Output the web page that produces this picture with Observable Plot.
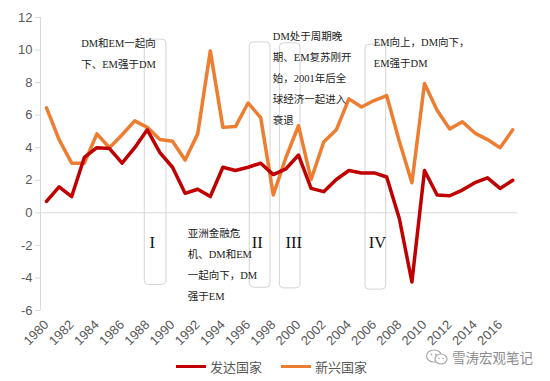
<!DOCTYPE html>
<html>
<head>
<meta charset="utf-8">
<script src="https://cdn.jsdelivr.net/npm/d3@7"></script>
<script src="https://cdn.jsdelivr.net/npm/@observablehq/plot@0.6"></script>
<style>
  html, body { margin: 0; padding: 0; background: #fff; }
  #wrap { position: relative; width: 550px; height: 381px; overflow: hidden; }
  #chart svg { overflow: visible; }
  #legend { position: absolute; left: 0; top: 352px; width: 550px; height: 29px;
            font-family: "Noto Sans CJK SC", "Liberation Sans", sans-serif; font-size: 13px; color: #595959; }
  .item { position: absolute; top: 5px; display: flex; align-items: center; }
  .swatch { display: inline-block; width: 30px; height: 3.5px; margin-right: 4px; }
  #wm { position: absolute; left: 425px; top: -5px; display: flex; align-items: center;
        font-family: "Noto Sans CJK SC", sans-serif; font-size: 13.5px; color: #8c8c8c; }
</style>
</head>
<body>
<div id="wrap">
  <div id="chart"></div>
  <div id="legend"></div>
</div>
<script>
// ---- data ----
const years = [1980,1981,1982,1983,1984,1985,1986,1987,1988,1989,1990,1991,1992,1993,1994,1995,1996,1997,1998,1999,
               2000,2001,2002,2003,2004,2005,2006,2007,2008,2009,2010,2011,2012,2013,2014,2015,2016,2017];
const dmGrowth = [0.7,1.6,1.0,3.4,4.0,3.95,3.05,4.0,5.1,3.7,2.8,1.2,1.45,1.0,2.8,2.6,2.8,3.05,2.35,2.7,
                  3.55,1.5,1.3,2.05,2.6,2.45,2.45,2.2,-0.35,-4.25,2.6,1.1,1.05,1.4,1.85,2.15,1.5,2.0];
const emGrowth = [6.45,4.5,3.05,3.05,4.85,4.0,4.8,5.65,5.25,4.5,4.4,3.25,4.85,9.95,5.25,5.3,6.75,5.85,1.1,3.4,
                  5.35,2.05,4.35,5.1,7.0,6.5,6.9,7.2,4.4,1.85,7.95,6.3,5.15,5.6,4.9,4.5,4.0,5.1];
const seriesNames = ["发达国家", "新兴国家"];
const seriesColors = ["#c00000", "#ed7d31"];
const yTicks = [-6,-4,-2,0,2,4,6,8,10,12];
const xTicks = [1980,1982,1984,1986,1988,1990,1992,1994,1996,1998,2000,2002,2004,2006,2008,2010,2012,2014,2016];

// phase boxes (years and values)
const boxLabels = ["I", "II", "III", "IV"];
const boxX1 = [1987.8, 1996.13, 1998.52, 2005.32];
const boxX2 = [1989.52, 1997.78, 2000.16, 2006.96];
const boxTop = [10.64, 10.47, 10.41, 10.33];
const boxBottom = [-4.43, -4.6, -4.64, -4.72];
const boxLabelX = [1988.39, 1996.73, 1999.63, 2006.27];
const boxLabelY = [-1.85, -1.85, -1.85, -1.85];

// notes
const noteTexts = [
  "DM和EM一起向\n下、EM强于DM",
  "DM处于周期晚\n期、EM复苏刚开\n始，2001年后全\n球经济一起进入\n衰退",
  "EM向上，DM向下，\nEM强于DM",
  "亚洲金融危\n机、DM和EM\n一起向下，DM\n强于EM"
];
const noteX = [1982.75, 1997.96, 2005.98, 1991.21];
const noteY = [9.97, 8.46, 10.01, -3.0];

const watermark = "雪涛宏观笔记";

// ---- build tables ----
const rows = [];
years.forEach((yr, i) => {
  rows.push({year: yr, value: dmGrowth[i], series: seriesNames[0]});
  rows.push({year: yr, value: emGrowth[i], series: seriesNames[1]});
});
const boxes = boxLabels.map((l, i) => ({label: l, x1: boxX1[i], x2: boxX2[i], y1: boxBottom[i], y2: boxTop[i], lx: boxLabelX[i], ly: boxLabelY[i]}));
const notes = noteTexts.map((t, i) => ({text: t, x: noteX[i], y: noteY[i]}));

const xMin = 1979.524, xMax = 2017.38;

const chart = Plot.plot({
  width: 550,
  height: 352,
  marginTop: 17,
  marginBottom: 42,
  marginLeft: 40,
  marginRight: 33,
  style: {fontFamily: "'Liberation Sans', Arial, sans-serif", background: "#fff", overflow: "visible"},
  x: {type: "linear", domain: [xMin, xMax]},
  y: {domain: [-6, 12]},
  color: {domain: seriesNames, range: seriesColors},
  marks: [
    Plot.ruleX([xMin], {y1: -6, y2: 12, stroke: "#d9d9d9"}),
    Plot.ruleY([0], {stroke: "#d9d9d9"}),
    Plot.axisY({ticks: yTicks, tickSize: 5, tickPadding: 3, stroke: "#d9d9d9", fill: "#595959", fontSize: 13, label: null, tickFormat: d => String(d)}),
    Plot.axisX({ticks: xTicks, tickSize: 0, tickPadding: 12, tickRotate: -45, fill: "#595959", fontSize: 13, label: null, tickFormat: d => String(d)}),
    Plot.rect(boxes, {x1: "x1", x2: "x2", y1: "y1", y2: "y2", fill: "none", stroke: "#d4d4d4", rx: 4}),
    Plot.line(rows.filter(d => d.series === seriesNames[1]), {x: "year", y: "value", stroke: "series", strokeWidth: 3.5, strokeLinejoin: "round"}),
    Plot.line(rows.filter(d => d.series === seriesNames[0]), {x: "year", y: "value", stroke: "series", strokeWidth: 3.5, strokeLinejoin: "round"}),
    Plot.text(boxes, {x: "lx", y: "ly", text: "label", fontFamily: "'Liberation Serif', 'Times New Roman', serif", fontSize: 16.5, fill: "#111", textAnchor: "middle"}),
    Plot.text(notes, {x: "x", y: "y", text: "text", textAnchor: "start", lineAnchor: "middle", lineHeight: 2.0,
      fontFamily: "'Liberation Serif', 'Noto Sans CJK SC', serif", fontSize: 10.5, fill: "#1a1a1a"})
  ]
});
document.getElementById("chart").appendChild(chart);

// legend + watermark
const legend = document.getElementById("legend");
const legendLeft = [176, 281];
seriesNames.forEach((n, i) => {
  const it = document.createElement("div");
  it.className = "item";
  it.style.left = legendLeft[i] + "px";
  it.innerHTML = `<span class="swatch" style="background:${seriesColors[i]}"></span><span>${n}</span>`;
  legend.appendChild(it);
});
const wm = document.createElement("div");
wm.id = "wm";
wm.innerHTML = `<svg width="24" height="18" viewBox="0 0 24 18" style="margin-right:3px">
  <ellipse cx="9" cy="8" rx="7.5" ry="6" fill="none" stroke="#aaa" stroke-width="1.2"/>
  <ellipse cx="16" cy="11" rx="6" ry="5" fill="#fff" stroke="#aaa" stroke-width="1.2"/>
  <circle cx="6.5" cy="6.5" r="0.9" fill="#aaa"/><circle cx="11" cy="6.5" r="0.9" fill="#aaa"/>
  <circle cx="14" cy="10.5" r="0.8" fill="#aaa"/><circle cx="18" cy="10.5" r="0.8" fill="#aaa"/>
</svg><span>${watermark}</span>`;
legend.appendChild(wm);
</script>
</body>
</html>
